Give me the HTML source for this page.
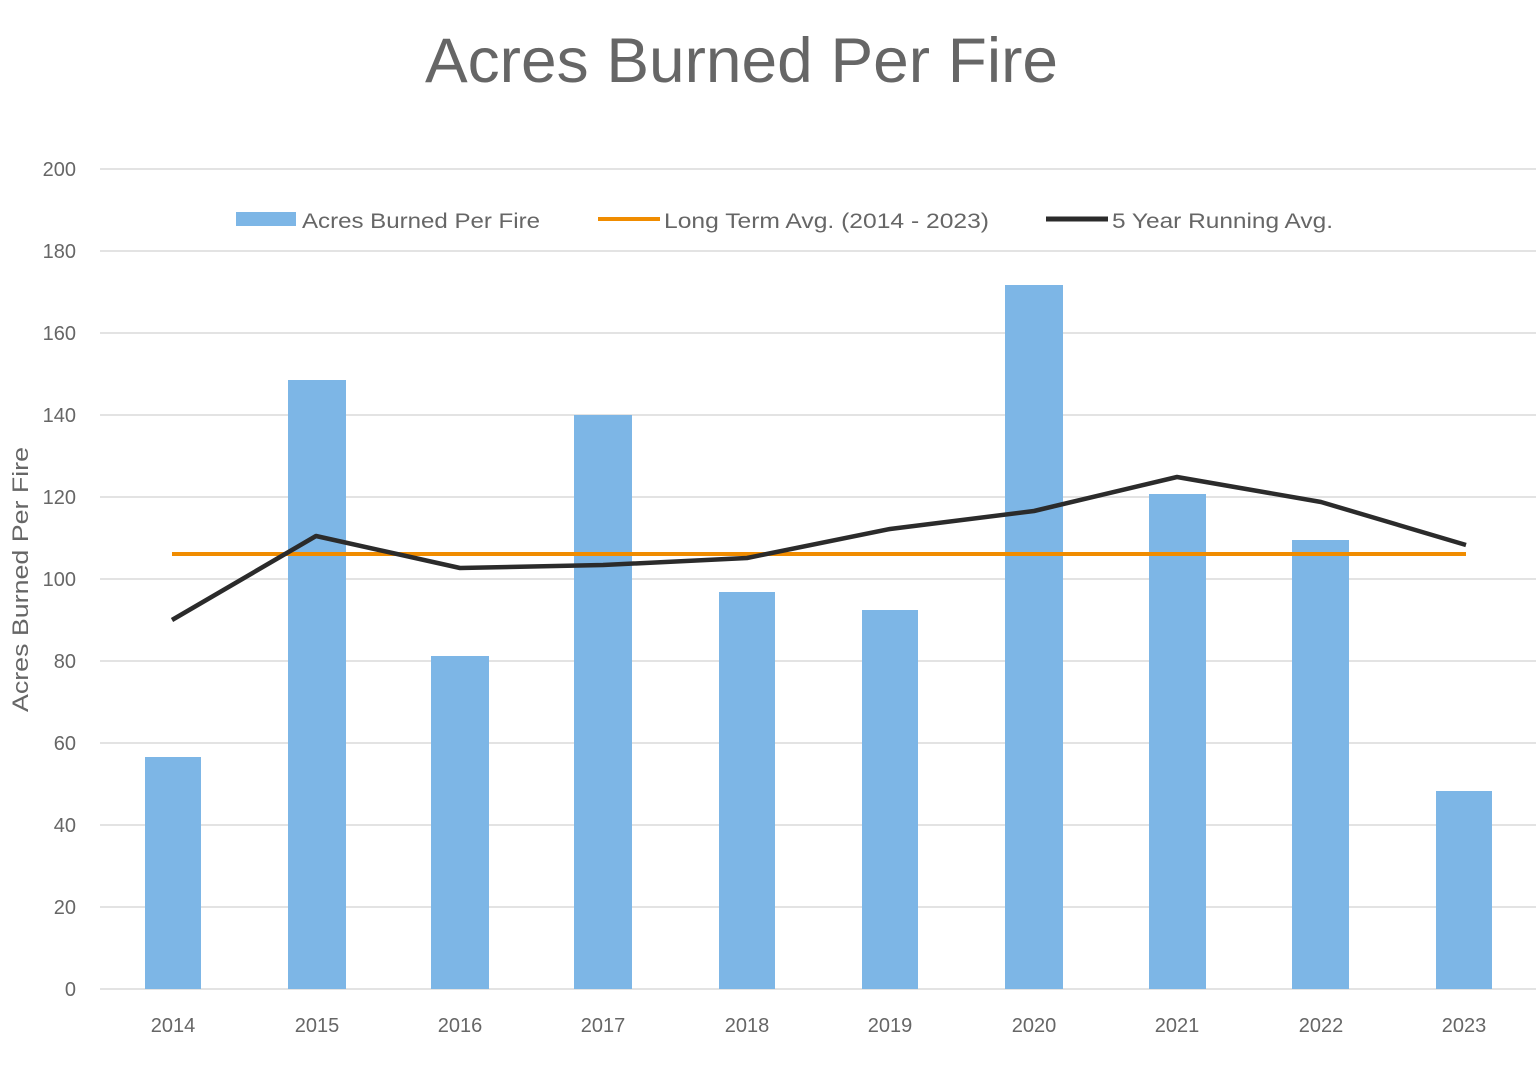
<!DOCTYPE html>
<html><head><style>body{margin:0;background:#fff;}svg text{font-family:"Liberation Sans",sans-serif;fill:#666;}</style></head>
<body>
<svg width="1540" height="1060" xmlns="http://www.w3.org/2000/svg">
<text x="425" y="82" font-size="63" textLength="633" lengthAdjust="spacingAndGlyphs" fill="#666">Acres Burned Per Fire</text>
<g stroke="#e3e3e3" stroke-width="2">
<line x1="100" x2="1536" y1="169" y2="169"/><line x1="100" x2="1536" y1="251" y2="251"/><line x1="100" x2="1536" y1="333" y2="333"/><line x1="100" x2="1536" y1="415" y2="415"/><line x1="100" x2="1536" y1="497" y2="497"/><line x1="100" x2="1536" y1="579" y2="579"/><line x1="100" x2="1536" y1="661" y2="661"/><line x1="100" x2="1536" y1="743" y2="743"/><line x1="100" x2="1536" y1="825" y2="825"/><line x1="100" x2="1536" y1="907" y2="907"/><line x1="100" x2="1536" y1="989" y2="989"/>
</g>
<g font-size="20" text-anchor="end">
<text x="76" y="176">200</text><text x="76" y="258">180</text><text x="76" y="340">160</text><text x="76" y="422">140</text><text x="76" y="504">120</text><text x="76" y="586">100</text><text x="76" y="668">80</text><text x="76" y="750">60</text><text x="76" y="832">40</text><text x="76" y="914">20</text><text x="76" y="996">0</text>
</g>
<text transform="translate(28,712) rotate(-90)" font-size="22" textLength="265" lengthAdjust="spacingAndGlyphs">Acres Burned Per Fire</text>
<g fill="#7db6e6">
<rect x="145" y="757" width="56" height="232"/><rect x="288" y="380" width="58" height="609"/><rect x="431" y="656" width="58" height="333"/><rect x="574" y="415" width="58" height="574"/><rect x="719" y="592" width="56" height="397"/><rect x="862" y="610" width="56" height="379"/><rect x="1005" y="285" width="58" height="704"/><rect x="1149" y="494" width="57" height="495"/><rect x="1292" y="540" width="57" height="449"/><rect x="1436" y="791" width="56" height="198"/>
</g>
<line x1="172" x2="1466" y1="554" y2="554" stroke="#f08c00" stroke-width="4"/>
<polyline points="172,620 316,536 460,568 603,565 747,558 890,529 1034,511 1177,477 1321,502 1466,545" fill="none" stroke="#2b2b2b" stroke-width="4.5" stroke-linejoin="round"/>
<g font-size="20" text-anchor="middle">
<text x="173" y="1032">2014</text><text x="317" y="1032">2015</text><text x="460" y="1032">2016</text><text x="603" y="1032">2017</text><text x="747" y="1032">2018</text><text x="890" y="1032">2019</text><text x="1034" y="1032">2020</text><text x="1177" y="1032">2021</text><text x="1321" y="1032">2022</text><text x="1464" y="1032">2023</text>
</g>
<rect x="236" y="212" width="60" height="14" fill="#7db6e6"/>
<text x="302" y="228" font-size="21" textLength="238" lengthAdjust="spacingAndGlyphs">Acres Burned Per Fire</text>
<line x1="598" x2="660" y1="219" y2="219" stroke="#f08c00" stroke-width="4"/>
<text x="664" y="228" font-size="21" textLength="325" lengthAdjust="spacingAndGlyphs">Long Term Avg. (2014 - 2023)</text>
<line x1="1046" x2="1108" y1="219" y2="219" stroke="#2b2b2b" stroke-width="5"/>
<text x="1112" y="228" font-size="21" textLength="221" lengthAdjust="spacingAndGlyphs">5 Year Running Avg.</text>
</svg>
</body></html>
